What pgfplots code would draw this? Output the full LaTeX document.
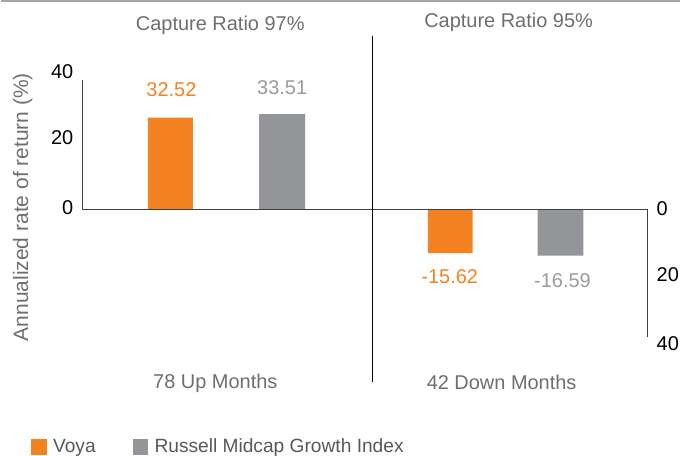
\documentclass[border=0pt]{standalone}
\usepackage{pgfplots}
\pgfplotsset{compat=1.18}
\usepackage{fontspec}
\setmainfont{Liberation Sans}
\definecolor{voya}{HTML}{F58220}
\definecolor{russ}{HTML}{939598}
\definecolor{txtgray}{HTML}{6D6E71}
\definecolor{valgray}{HTML}{9A9B9D}
\definecolor{axgray}{HTML}{404040}
\begin{document}
\begin{tikzpicture}[font=\fontsize{10}{12}\selectfont]
\begin{axis}[
  scale only axis, width=340.5pt, height=228pt,
  xmin=0, xmax=681, ymin=-71.3, ymax=60.87,
  hide axis, clip=false,
  legend style={at={(axis cs:30,-69)}, anchor=west, draw=none, fill=none,
    inner sep=0pt, nodes={inner sep=0pt, text=txtgray!80!black, font=\fontsize{9.6}{11}\selectfont},
    legend columns=2,
    /tikz/every odd column/.append style={column sep=3.2pt},
    /tikz/every even column/.append style={column sep=18.5pt}},
]
\addplot[ybar, bar width=45, bar shift=0pt, fill=voya, draw=none,
  legend image code/.code={\fill[voya] (0pt,-3.9pt) rectangle (7.8pt,3.9pt);}]
  coordinates {(170,26.7) (450.5,-12.7)};
\addlegendentry{Voya}
\addplot[ybar, bar width=46, bar shift=0pt, fill=russ, draw=none,
  legend image code/.code={\fill[russ] (0pt,-3.9pt) rectangle (7.8pt,3.9pt);}]
  coordinates {(282,27.7) (561,-13.4)};
\addlegendentry{Russell Midcap Growth Index}

\path (axis cs:0,-71.3) rectangle (axis cs:681,60.87);
\draw[gray!70, line width=0.8pt] (axis cs:0,60.6) -- (axis cs:681,60.6);
\draw[axgray, line width=0.6pt] (axis cs:82,37.7) -- (axis cs:82,0) -- (axis cs:648,0) -- (axis cs:648,-37.1);
\draw[black, line width=0.5pt] (axis cs:372.7,50.5) -- (axis cs:372.7,-50.1);

\begin{scope}[every node/.style={inner sep=0pt, black}]
\node[anchor=east] at (axis cs:73,40) {40};
\node[anchor=east] at (axis cs:73,21) {20};
\node[anchor=east] at (axis cs:73,0.5) {0};
\node[anchor=west] at (axis cs:657,0.3) {0};
\node[anchor=west] at (axis cs:657,-18.8) {20};
\node[anchor=west] at (axis cs:657,-39.1) {40};
\end{scope}

\node[txtgray] at (axis cs:220,53.6) {Capture Ratio 97\%};
\node[txtgray] at (axis cs:509,54.4) {Capture Ratio 95\%};
\node[voya] at (axis cs:171,34.8) {32.52};
\node[valgray] at (axis cs:282,35.3) {33.51};
\node[voya] at (axis cs:450,-19.5) {-15.62};
\node[valgray] at (axis cs:563,-20.8) {-16.59};
\node[txtgray] at (axis cs:215,-50.4) {78 Up Months};
\node[txtgray] at (axis cs:502,-50.1) {42 Down Months};
\node[rotate=90, txtgray, font=\fontsize{10.5}{12}\selectfont] at (axis cs:22,0.7) {Annualized rate of return (\%)};
\end{axis}
\end{tikzpicture}
\end{document}
